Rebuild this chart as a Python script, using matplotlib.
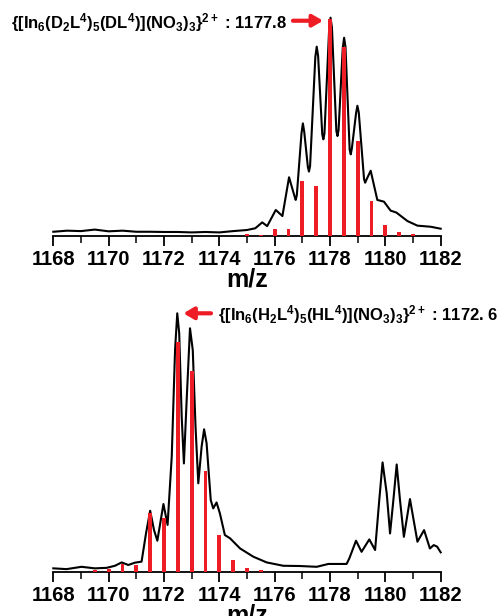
import matplotlib.pyplot as plt
from matplotlib.ticker import MultipleLocator

plt.rcParams['font.family'] = ['Liberation Sans', 'DejaVu Sans']
plt.rcParams['font.weight'] = 'bold'
plt.rcParams['mathtext.fontset'] = 'custom'
plt.rcParams['mathtext.rm'] = 'Liberation Sans:bold'
plt.rcParams['mathtext.bf'] = 'Liberation Sans:bold'
plt.rcParams['mathtext.it'] = 'Liberation Sans:bold'
plt.rcParams['mathtext.default'] = 'bf'

# top: deuterated species, measured profile (relative intensity)
top_mz = [1168.0, 1168.5, 1169.0, 1169.5, 1170.0, 1170.5, 1171.0, 1171.5, 1172.0,
          1172.5, 1173.0, 1173.5, 1174.0, 1174.5, 1175.0, 1175.3, 1175.55, 1175.73,
          1176.04, 1176.28, 1176.52, 1176.72, 1176.76, 1176.80, 1176.97, 1177.02,
          1177.07, 1177.20, 1177.24, 1177.28, 1177.47, 1177.52, 1177.57, 1177.72,
          1177.76, 1177.80, 1177.97, 1178.02, 1178.07, 1178.23, 1178.27, 1178.31,
          1178.46, 1178.51, 1178.56, 1178.71, 1178.75, 1178.79, 1178.94, 1178.99,
          1179.04, 1179.23, 1179.27, 1179.31, 1179.47, 1179.71, 1179.95, 1180.19,
          1180.40, 1180.80, 1181.16, 1181.64, 1182.0]
top_int = [1.8, 2.3, 2.1, 2.8, 2.0, 2.3, 1.8, 1.8, 1.7,
           1.7, 1.5, 1.7, 1.5, 2.1, 2.6, 3.4, 6.1, 4.4,
           11.8, 9.0, 26.8, 18.0, 16.4, 18.5, 47.0, 51.5,
           47.5, 31.5, 29.4, 32.0, 82.0, 86.7, 82.5, 46.5,
           44.2, 47.0, 95.0, 100.0, 95.5, 48.0, 45.7, 48.5,
           86.0, 90.8, 86.5, 39.5, 37.3, 40.0, 56.0, 59.6,
           56.5, 26.0, 24.3, 25.5, 29.8, 16.4, 15.6, 11.5,
           10.6, 6.7, 4.6, 4.1, 3.2]
top_stick_mz = [1175.0, 1175.5, 1176.0, 1176.5, 1177.0, 1177.5, 1178.0, 1178.5,
                1179.0, 1179.5, 1180.0, 1180.5, 1181.0]
top_stick_int = [0.8, 0.5, 3.1, 2.9, 25.1, 22.9, 99.2, 86.7, 43.4, 15.9, 4.9, 1.7, 0.6]

# bottom: protonated species
bot_mz = [1168.0, 1168.48, 1169.02, 1169.5, 1169.93, 1170.23, 1170.47, 1170.71, 1170.95,
          1171.19, 1171.35, 1171.5, 1171.64, 1171.76, 1171.98, 1172.13, 1172.28, 1172.40,
          1172.48, 1172.55, 1172.64, 1172.72, 1172.82, 1172.94, 1173.04, 1173.14, 1173.24,
          1173.36, 1173.45, 1173.54, 1173.69, 1173.78, 1173.90, 1174.02, 1174.2, 1174.39,
          1174.75, 1175.23, 1175.71, 1176.31, 1176.92, 1177.52, 1177.94, 1178.6, 1178.70,
          1178.94, 1179.14, 1179.42, 1179.63, 1179.78, 1179.90, 1180.05, 1180.17, 1180.29,
          1180.41, 1180.53, 1180.67, 1180.89, 1181.16, 1181.40, 1181.61, 1181.75, 1181.87,
          1182.0]
bot_int = [1.3, 1.0, 1.9, 1.3, 1.5, 2.3, 3.6, 2.6, 3.5,
           3.9, 14.8, 23.6, 16.1, 12.0, 26.2, 18.1, 44.5, 85.8,
           100.0, 92.3, 60.0, 41.9, 66.5, 94.2, 85.8, 56.1, 34.2,
           48.4, 55.1, 49.7, 27.7, 24.5, 26.8, 22.6, 14.2, 12.9,
           9.0, 5.8, 3.6, 2.3, 2.2, 1.9, 3.0, 3.0, 5.2,
           12.0, 7.7, 12.5, 8.4, 27.7, 42.3, 30.3, 14.8, 27.7,
           41.5, 27.7, 13.5, 28.1, 11.6, 16.1, 9.0, 10.3, 9.7,
           7.5]
bot_stick_mz = [1169.5, 1170.0, 1170.5, 1171.0, 1171.5, 1172.0, 1172.5, 1173.0,
                1173.5, 1174.0, 1174.5, 1175.0, 1175.5]
bot_stick_int = [0.6, 0.9, 2.8, 2.6, 22.6, 20.6, 88.8, 77.7, 38.8, 14.2, 4.5, 1.4, 0.5]

top_label = r'{[In$_6$(D$_2$L$^4$)$_5$(DL$^4$)](NO$_3$)$_3$}$^{2+}$ : 1177.8'
bot_label = r'{[In$_6$(H$_2$L$^4$)$_5$(HL$^4$)](NO$_3$)$_3$}$^{2+}$ : 1172. 6'

red = '#ee1c25'

fig = plt.figure(figsize=(5.01, 6.16), dpi=100)
ax1 = fig.add_axes([0.1064, 0.6174, 0.7732, 0.3539])
ax2 = fig.add_axes([0.1064, 0.0719, 0.7732, 0.4195])


def style(ax):
    ax.set_xlim(1168, 1182)
    ax.set_ylim(0, 100)
    for s in ['left', 'right', 'top']:
        ax.spines[s].set_visible(False)
    ax.spines['bottom'].set_linewidth(1.3)
    ax.set_yticks([])
    ax.xaxis.set_major_locator(MultipleLocator(2))
    ax.xaxis.set_minor_locator(MultipleLocator(1))
    ax.tick_params(axis='x', which='major', length=7.5, width=1.3, pad=3,
                   labelsize=14.5)
    ax.tick_params(axis='x', which='minor', length=5, width=1.1)
    for t in ax.get_xticklabels():
        t.set_fontweight('bold')
    ax.set_xlabel('m/z', fontsize=18, fontweight='bold', labelpad=-1)
    ax.patch.set_alpha(0)


ax1.plot(top_mz, top_int, color='black', lw=1.5, clip_on=False, zorder=2,
         solid_joinstyle='round')
ax1.bar(top_stick_mz, top_stick_int, width=0.14, color=red, zorder=3)
style(ax1)
ax1.annotate('', xy=(1177.75, 98.6), xytext=(1176.66, 98.6),
             arrowprops=dict(arrowstyle='-|>,head_length=0.6,head_width=0.35',
                             color=red, lw=3, shrinkA=0, shrinkB=0),
             annotation_clip=False)
ax1.text(1176.45, 95.1, top_label, ha='right', va='baseline', fontsize=12,
         fontweight='bold', clip_on=False)

ax2.plot(bot_mz, bot_int, color='black', lw=1.5, clip_on=False, zorder=2,
         solid_joinstyle='round')
ax2.bar(bot_stick_mz, bot_stick_int, width=0.14, color=red, zorder=3)
style(ax2)
ax2.annotate('', xy=(1172.7, 100), xytext=(1173.7, 100),
             arrowprops=dict(arrowstyle='-|>,head_length=0.6,head_width=0.35',
                             color=red, lw=3, shrinkA=0, shrinkB=0),
             annotation_clip=False)
ax2.text(1173.95, 97.4, bot_label, ha='left', va='baseline', fontsize=12,
         fontweight='bold', clip_on=False)

fig.savefig('out.png', dpi=100)
